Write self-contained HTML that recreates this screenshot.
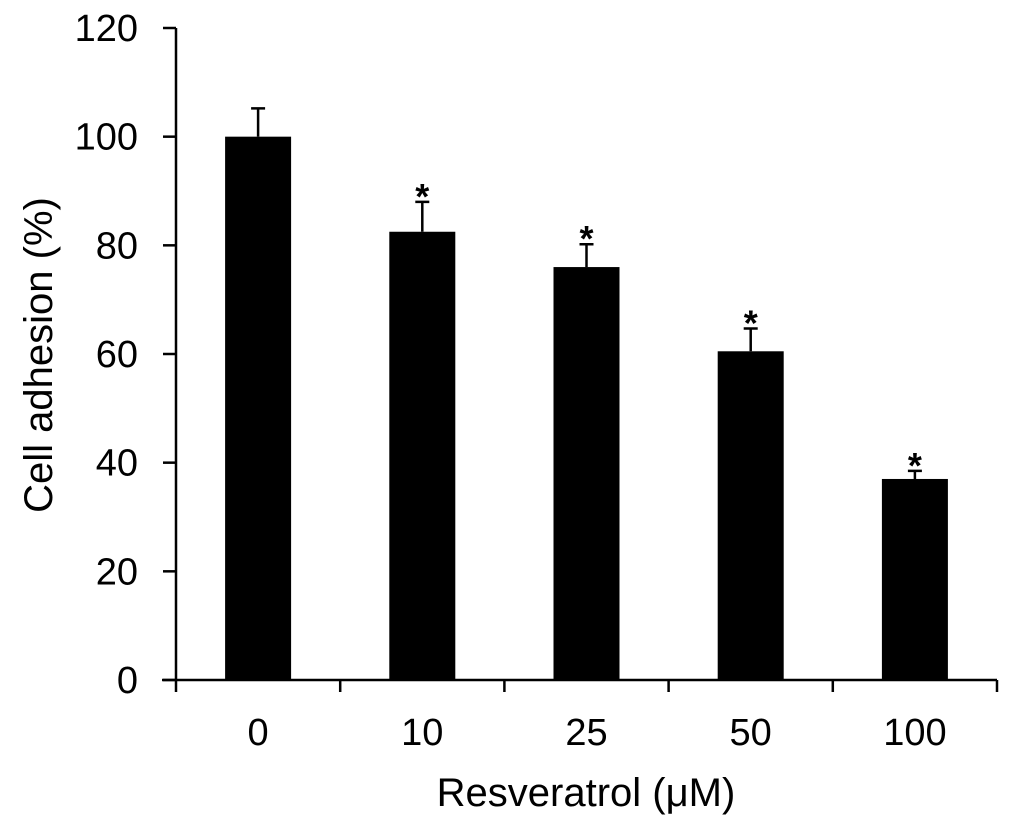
<!DOCTYPE html>
<html><head><meta charset="utf-8"><style>
body{margin:0;background:#fff;}
svg text{font-family:"Liberation Sans",Arial,sans-serif;fill:#000;}
</style></head><body>
<svg width="1013" height="829" viewBox="0 0 1013 829">
<g id="plot"></g>
</svg>
<script>
const categories=["0","10","25","50","100"];
const values=[100,82.5,76,60.5,37];
const errors=[5.2,5.5,4.2,4.2,1.5];
const significant=[false,true,true,true,true];
const yTicks=[0,20,40,60,80,100,120];
const NS="http://www.w3.org/2000/svg";
const g=document.getElementById('plot');
const x0=176,x1=997,yBase=680,yTop=28;
const y=v=>yBase-(v/120)*(yBase-yTop);
const step=(x1-x0)/categories.length;
const cx=i=>x0+step*(i+0.5);
const barW=66;
function el(t,a){const e=document.createElementNS(NS,t);for(const k in a)e.setAttribute(k,a[k]);g.appendChild(e);return e;}
let ax=el('line',{x1:x0,y1:yTop,x2:x0,y2:yBase,stroke:'#000','stroke-width':2.5});


yTicks.forEach(v=>{
 const t=el('line',{x1:x0-13,y1:y(v),x2:x0,y2:y(v),stroke:'#000','stroke-width':2.5});
 
 
 const l=el('text',{x:x0-38,y:y(v)+13,'text-anchor':'end','font-size':38});
 l.textContent=v;
 
 
});
let xa=el('line',{x1:162,y1:yBase,x2:x1,y2:yBase,stroke:'#000','stroke-width':2.5});


for(let i=0;i<=categories.length;i++){
 const t=el('line',{x1:x0+step*i,y1:yBase,x2:x0+step*i,y2:yBase+12,stroke:'#000','stroke-width':2.5});
 
 
}
categories.forEach((c,i)=>{
 const x=cx(i);
 const b=el('rect',{x:x-barW/2,y:y(values[i]),width:barW,height:yBase-y(values[i]),fill:'#000'});
 
 
 const top=y(values[i]+errors[i]);
 const e=el('path',{d:`M${x} ${y(values[i])}V${top}M${x-7} ${top}H${x+7}`,stroke:'#000','stroke-width':2.5,fill:'none'});
 
 
 if(significant[i]){
  const s=el('text',{x:x,y:top+7,'text-anchor':'middle','font-size':36,'font-weight':'bold'});
  s.textContent='*';
  
  
 }
 const l=el('text',{x:x,y:745,'text-anchor':'middle','font-size':38});
 l.textContent=c;
 
 
});
const xt=el('text',{x:586,y:806,'text-anchor':'middle','font-size':40});
xt.textContent='Resveratrol (\u03bcM)';


const yt=el('text',{x:0,y:0,'text-anchor':'middle','font-size':40,transform:'translate(52,355) rotate(-90)'});
yt.textContent='Cell adhesion (%)';


</script>
</body></html>
